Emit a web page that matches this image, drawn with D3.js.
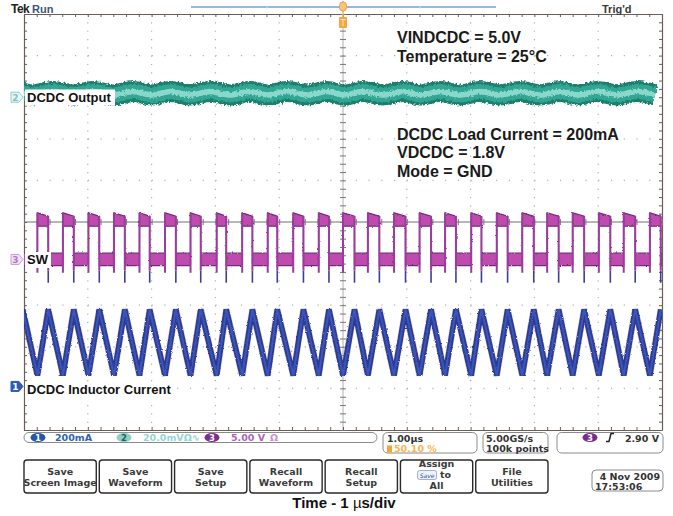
<!DOCTYPE html>
<html>
<head>
<meta charset="utf-8">
<script src="https://cdn.jsdelivr.net/npm/d3@7"></script>
<style>
  body { margin: 0; background: #fff; }
  svg { display: block; }
</style>
</head>
<body>
<div id="scope"></div>
<script>
// ---- data ----
// horizontal: 1 us/div, trigger at centre
var timeDomain = [-5, 5];

// SW (ch3) edge times, us
var swRise = [-4.79, -4.39, -3.99, -3.59, -3.19, -2.79, -2.39, -1.98, -1.58, -1.18, -0.78, -0.38,
              0.00, 0.39, 0.80, 1.20, 1.60, 2.01, 2.41, 2.81, 3.20, 3.60, 4.01, 4.40, 4.81];
var swFall = [-5.02, -4.62, -4.22, -3.82, -3.42, -3.03, -2.62, -2.23, -1.83, -1.42, -1.03, -0.62, -0.22,
              0.18, 0.57, 0.98, 1.38, 1.77, 2.17, 2.58, 2.99, 3.38, 3.78, 4.19, 4.58, 4.98];
// SW persistence band, V : low bottom, low top, high bottom
var swBand = [-0.75, 0.75, 4.0];
// high top at start / end of the pulse, V
var swHighTop = [5.6, 5.2];
// rise dip, fall undershoot, V
var swSpikes = [-1.6, -2.8];

// inductor current (ch1), mA : valley, peak
var ilLevels = [62, 380];

// DCDC output ripple (ch2)
var outHumpT = [-5.1, -4.55, -3.92, -3.29, -2.71, -2.08, -1.46, -0.88, -0.25, 0.31, 0.94, 1.52, 2.15, 2.77, 3.40, 3.98, 4.61];
var outTroughT = [-4.86, -4.23, -3.61, -2.99, -2.40, -1.77, -1.18, -0.56, 0.03, 0.63, 1.22, 1.83, 2.46, 3.09, 3.68, 4.29, 4.89];
var outLevels = [1.1, 2.7];   // mV : trough, hump

// channel offsets (div) and scales (per div)
var chPos = { ch1: -4, ch2: 3, ch3: -0.9 };
var chScale = { ch1: 200, ch2: 20, ch3: 5 };

// text
var notesTop = ["VINDCDC = 5.0V", "Temperature = 25°C"];
var notesMid = ["DCDC Load Current = 200mA", "VDCDC = 1.8V", "Mode = GND"];
var menuButtons = [["Save", "Screen Image"], ["Save", "Waveform"], ["Save", "Setup"],
                   ["Recall", "Waveform"], ["Recall", "Setup"], ["Assign", "to", "All"], ["File", "Utilities"]];

// ---- setup ----
var W = 673, H = 516;
var svg = d3.select("#scope").append("svg")
    .attr("width", W).attr("height", H)
    .style("background", "#fff");

var x = d3.scaleLinear().domain(timeDomain).range([24, 662]);
var gy = d3.scaleLinear().domain([5, -5]).range([14, 430]);   // divisions

var y1 = function(v) { return gy(chPos.ch1 + v / chScale.ch1); };
var y2 = function(v) { return gy(chPos.ch2 + v / chScale.ch2); };
var y3 = function(v) { return gy(chPos.ch3 + v / chScale.ch3); };

var defs = svg.append("defs");
defs.append("clipPath").attr("id", "grat")
  .append("rect").attr("x", 24).attr("y", 14).attr("width", 638).attr("height", 416);

function fuzzFilter(id, freq, scale, seed) {
  var f = defs.append("filter").attr("id", id)
      .attr("filterUnits", "userSpaceOnUse")
      .attr("x", 0).attr("y", 0).attr("width", W).attr("height", H);
  f.append("feTurbulence").attr("type", "fractalNoise")
      .attr("baseFrequency", freq).attr("numOctaves", 2).attr("seed", seed).attr("result", "n");
  f.append("feDisplacementMap").attr("in", "SourceGraphic").attr("in2", "n")
      .attr("scale", scale).attr("xChannelSelector", "R").attr("yChannelSelector", "G");
}
fuzzFilter("fuzz", "0.5 0.45", 4.5, 7);
fuzzFilter("fuzz2", "0.8 0.6", 2.2, 3);

// ---- graticule ----
var grid = svg.append("g");
var dx = (x(1) - x(0)) / 5, dy = (gy(-1) - gy(0)) / 5;

grid.selectAll(".vg").data([-4, -3, -2, -1, 1, 2, 3, 4]).join("line")
    .attr("x1", function(d) { return x(d); }).attr("x2", function(d) { return x(d); })
    .attr("y1", 14).attr("y2", 430)
    .attr("stroke", "#a7b2bf").attr("stroke-width", 1.2)
    .attr("stroke-dasharray", "1.2 " + (dy - 1.2));

grid.selectAll(".hg").data([4, 3, 2, 1, -1, -2, -3, -4]).join("line")
    .attr("y1", function(d) { return gy(d); }).attr("y2", function(d) { return gy(d); })
    .attr("x1", 24).attr("x2", 662)
    .attr("stroke", "#a7b2bf").attr("stroke-width", 1.2)
    .attr("stroke-dasharray", "1.2 " + (dx - 1.2));

// centre lines
grid.append("line").attr("x1", x(0)).attr("x2", x(0)).attr("y1", 14).attr("y2", 430)
    .attr("stroke", "#9a9a9a").attr("stroke-width", 0.8);
grid.append("line").attr("x1", 24).attr("x2", 662).attr("y1", gy(0)).attr("y2", gy(0))
    .attr("stroke", "#707070").attr("stroke-width", 1);

var minorX = d3.range(51).map(function(i) { return -5 + i * 0.2; });
var minorY = d3.range(51).map(function(i) { return -5 + i * 0.2; });

function styleAxis(g) {
  g.selectAll(".domain").attr("stroke", "#6a5e58").attr("stroke-width", 1.2);
  g.selectAll(".tick line").attr("stroke", "#6a5e58");
}
grid.append("g").attr("transform", "translate(0,14)")
    .call(d3.axisBottom(x).tickValues(minorX).tickSize(3).tickSizeOuter(0).tickFormat(""))
    .call(styleAxis);
grid.append("g").attr("transform", "translate(0,430)")
    .call(d3.axisTop(x).tickValues(minorX).tickSize(3).tickSizeOuter(0).tickFormat(""))
    .call(styleAxis);
grid.append("g").attr("transform", "translate(24,0)")
    .call(d3.axisRight(gy).tickValues(minorY).tickSize(3).tickSizeOuter(0).tickFormat(""))
    .call(styleAxis);
grid.append("g").attr("transform", "translate(662,0)")
    .call(d3.axisLeft(gy).tickValues(minorY).tickSize(3).tickSizeOuter(0).tickFormat(""))
    .call(styleAxis);
[d3.axisLeft, d3.axisRight].forEach(function(ax) {
  grid.append("g").attr("transform", "translate(" + x(0) + ",0)")
      .call(ax(gy).tickValues(minorY).tickSize(3).tickSizeOuter(0).tickFormat(""))
      .call(function(g) { g.select(".domain").remove(); g.selectAll(".tick line").attr("stroke", "#777"); });
});
[d3.axisTop, d3.axisBottom].forEach(function(ax) {
  grid.append("g").attr("transform", "translate(0," + gy(0) + ")")
      .call(ax(x).tickValues(minorX).tickSize(3).tickSizeOuter(0).tickFormat(""))
      .call(function(g) { g.select(".domain").remove(); g.selectAll(".tick line").attr("stroke", "#777"); });
});

// ---- traces ----
var traces = svg.append("g").attr("clip-path", "url(#grat)");

// ch2 DCDC output
var outPts = outHumpT.map(function(t) { return [t, outLevels[1]]; })
    .concat(outTroughT.map(function(t) { return [t, outLevels[0]]; }))
    .sort(function(a, b) { return a[0] - b[0]; });
var outLine = d3.line().x(function(d) { return x(d[0]); }).y(function(d) { return y2(d[1]); })
    .curve(d3.curveCatmullRom);
var tealG = traces.append("g").attr("filter", "url(#fuzz)");
[[21, "#1b7f6e"], [15, "#32a693"], [5.5, "#8ad8cb"]].forEach(function(s) {
  tealG.append("path").datum(outPts).attr("d", outLine)
      .attr("fill", "none").attr("stroke", s[1]).attr("stroke-width", s[0]);
});

// ch3 SW
var swPts = [[-5.2, swBand[0], swBand[1]]];
swRise.forEach(function(r, i) {
  var f = swFall[i + 1];
  swPts.push([r, swBand[0], swBand[1]], [r, swBand[2], swHighTop[0]],
             [f, swBand[2], swHighTop[1]], [f, swBand[0], swBand[1]]);
});
swPts.push([5.2, swBand[0], swBand[1]]);
var swArea = d3.area().x(function(d) { return x(d[0]); })
    .y0(function(d) { return y3(d[1]); }).y1(function(d) { return y3(d[2]); });
var swG = traces.append("g");
swG.append("path").datum(swPts).attr("d", swArea)
    .attr("fill", "#c04cae").attr("stroke", "#6d2c7c").attr("stroke-width", 1.2)
    .attr("filter", "url(#fuzz2)");
swG.selectAll(".ft").data(swFall).join("line")
    .attr("x1", function(d) { return x(d); }).attr("x2", function(d) { return x(d); })
    .attr("y1", y3(swBand[0] - 0.6)).attr("y2", y3(swSpikes[1]))
    .attr("stroke", "#3b3f9a").attr("stroke-width", 1.6);
swG.selectAll(".re").data(swRise).join("line")
    .attr("x1", function(d) { return x(d); }).attr("x2", function(d) { return x(d); })
    .attr("y1", y3(swSpikes[0])).attr("y2", y3(swHighTop[0]))
    .attr("stroke", "#9b3c9c").attr("stroke-width", 2);
swG.selectAll(".fe").data(swFall).join("line")
    .attr("x1", function(d) { return x(d); }).attr("x2", function(d) { return x(d); })
    .attr("y1", y3(swHighTop[1])).attr("y2", y3(swBand[0] - 0.6))
    .attr("stroke", "#9b3c9c").attr("stroke-width", 2);

// ch1 inductor current
var ilPts = [[swFall[0], ilLevels[1]]];
swRise.forEach(function(r, i) {
  ilPts.push([r, ilLevels[0]], [swFall[i + 1], ilLevels[1]]);
});
var ilLine = d3.line().x(function(d) { return x(d[0]); }).y(function(d) { return y1(d[1]); });
var ilG = traces.append("g").attr("filter", "url(#fuzz2)");
[[6.8, "#b98a8a", 0.3], [5.6, "#2c3c96", 1], [2, "#3d55b6", 1]].forEach(function(s) {
  ilG.append("path").datum(ilPts).attr("d", ilLine)
      .attr("fill", "none").attr("stroke", s[1]).attr("stroke-width", s[0])
      .attr("stroke-opacity", s[2]).attr("stroke-linejoin", "miter").attr("stroke-miterlimit", 4);
});

// ---- trace labels ----
function traceLabel(txt, yBase, w) {
  svg.append("rect").attr("x", 25).attr("y", yBase - 12).attr("width", w).attr("height", 16).attr("fill", "#fff");
  svg.append("text").attr("x", 27).attr("y", yBase).text(txt)
      .style("font-family", "'Liberation Sans', Arial, sans-serif").style("font-weight", "bold")
      .style("font-size", "13px").attr("fill", "#111");
}
traceLabel("DCDC Output", 101.5, 90);
traceLabel("SW", 264, 26);
traceLabel("DCDC Inductor Current", 394, 148);

// channel markers
function chMarker(n, yc, fill, stroke, txtCol) {
  var g = svg.append("g").attr("transform", "translate(11," + yc + ")");
  g.append("path").attr("d", "M0,-5H8L12,0L8,5H0Z").attr("fill", fill).attr("stroke", stroke).attr("stroke-width", 1);
  g.append("text").attr("x", 4.5).attr("y", 3.5).attr("text-anchor", "middle").text(n)
      .style("font-family", "DejaVu Sans, sans-serif").style("font-size", "9px").style("font-weight", "bold")
      .attr("fill", txtCol);
}
chMarker("2", gy(chPos.ch2), "#e6f6f4", "#8fcfc8", "#7fc4bd");
chMarker("3", y3(0), "#f1e0f4", "#c9a0d6", "#b07cc4");
chMarker("1", gy(chPos.ch1) - 2, "#2f5cae", "#2f5cae", "#fff");

// ---- annotations ----
function notes(lines, yFirst, step) {
  svg.append("g").selectAll("text").data(lines).join("text")
      .attr("x", 397).attr("y", function(d, i) { return yFirst + i * step; })
      .text(function(d) { return d; })
      .style("font-family", "'Liberation Sans', Arial, sans-serif").style("font-weight", "bold")
      .style("font-size", "16px").attr("fill", "#1a1a1a");
}
notes(notesTop, 43, 18.7);
notes(notesMid, 139.5, 18.7);

// ---- header ----
svg.append("text").attr("x", 11).attr("y", 12.5).text("Tek")
    .style("font-family", "'Liberation Sans', Arial, sans-serif").style("font-weight", "bold")
    .style("font-size", "12px").style("letter-spacing", "-0.5px").attr("fill", "#222");
svg.append("text").attr("x", 32).attr("y", 12.5).text("Run")
    .style("font-family", "'Liberation Sans', Arial, sans-serif").style("font-weight", "bold")
    .style("font-size", "11px").attr("fill", "#3c5679");
svg.append("text").attr("x", 602).attr("y", 12.5).text("Trig'd")
    .style("font-family", "'Liberation Sans', Arial, sans-serif").style("font-weight", "bold")
    .style("font-size", "11px").attr("fill", "#3a3a3a");
svg.append("line").attr("x1", 191).attr("x2", 496).attr("y1", 7).attr("y2", 7)
    .attr("stroke", "#6fa2da").attr("stroke-width", 1.5);
[267, 420].forEach(function(px) {
  svg.append("line").attr("x1", px).attr("x2", px).attr("y1", 5.5).attr("y2", 8.5)
      .attr("stroke", "#c8dcf2").attr("stroke-width", 1);
});
// trigger position marker
var trig = svg.append("g").attr("transform", "translate(" + x(0) + ",0)");
trig.append("line").attr("y1", 1).attr("y2", 28).attr("stroke", "#f2b35a").attr("stroke-width", 1.5);
trig.append("rect").attr("x", -3.5).attr("y", 2).attr("width", 7).attr("height", 9).attr("rx", 3.5)
    .attr("fill", "#f6c47a").attr("stroke", "#ee9f3a");
trig.append("rect").attr("x", -4).attr("y", 17).attr("width", 8).attr("height", 11).attr("rx", 1)
    .attr("fill", "#f5a63e");
trig.append("path").attr("d", "M-2.5,19.5H2.5M0,19.5V26").attr("stroke", "#fbe2bd").attr("stroke-width", 1.2);

// ---- status bar ----
var mono = "'DejaVu Sans', Verdana, sans-serif";
function sText(px, py, txt, col, size, anchor) {
  return svg.append("text").attr("x", px).attr("y", py).text(txt)
      .attr("text-anchor", anchor || "start")
      .style("font-family", mono).style("font-weight", "bold").style("font-size", (size || 9) + "px")
      .attr("fill", col);
}
function pill(cx, cy, n, fill, txtCol) {
  svg.append("ellipse").attr("cx", cx).attr("cy", cy).attr("rx", 7.5).attr("ry", 4.6).attr("fill", fill);
  sText(cx, cy + 3.2, n, txtCol, 8.5, "middle");
}
svg.append("rect").attr("x", 24).attr("y", 432.5).attr("width", 353).attr("height", 10).attr("rx", 5)
    .attr("fill", "#fff").attr("stroke", "#8a8a8a");
pill(38, 437.5, "1", "#2457a8", "#fff");
sText(55, 441, "200mA", "#2e64b8", 9.5);
pill(124, 437.5, "2", "#8dd0c8", "#285e58");
sText(143, 441, "20.0mVΩ∿", "#93d6d6", 9.5);
pill(212, 437.5, "3", "#7b2d8f", "#fff");
sText(231, 441, "5.00 V", "#b05fc2", 9.5);
sText(270, 441, "Ω", "#c98fd6", 9.5);

[[383, 94], [483, 65], [557, 106]].forEach(function(b) {
  svg.append("rect").attr("x", b[0]).attr("y", 432.5).attr("width", b[1]).attr("height", 20.5).attr("rx", 4.5)
      .attr("fill", "#fff").attr("stroke", "#8a8a8a");
});
sText(387, 441.5, "1.00µs", "#333", 9.5);
svg.append("rect").attr("x", 387).attr("y", 445.5).attr("width", 5).attr("height", 7).attr("fill", "#f5a632");
sText(394, 452, "50.10 %", "#f7b550", 9.5);
sText(486, 441.5, "5.00GS/s", "#333", 9.5);
sText(486, 452, "100k points", "#333", 9.5);
pill(590, 437.5, "3", "#7b2d8f", "#fff");
svg.append("path").attr("d", "M606,441.5H609L611,433.5H614").attr("fill", "none")
    .attr("stroke", "#222").attr("stroke-width", 1.5);
sText(659, 441.5, "2.90 V", "#333", 9.5, "end");

// ---- menu buttons ----
var bx = d3.scaleBand().domain(d3.range(menuButtons.length)).range([24, 548]).paddingInner(0.04);
var btn = svg.append("g").selectAll("g").data(menuButtons).join("g")
    .attr("transform", function(d, i) { return "translate(" + bx(i) + ",460)"; });
btn.append("rect").attr("width", bx.bandwidth()).attr("height", 33).attr("rx", 3)
    .attr("fill", "#fff").attr("stroke", "#2a2a2a").attr("stroke-width", 1.4);
btn.each(function(d) {
  var g = d3.select(this);
  var y0 = d.length === 3 ? 7 : 15;
  d.forEach(function(line, k) {
    var t = g.append("text").attr("x", bx.bandwidth() / 2).attr("y", y0 + k * 11)
        .attr("text-anchor", "middle")
        .style("font-family", mono).style("font-weight", "bold").style("font-size", "9.5px")
        .attr("fill", "#3a3a3a");
    if (line === "to") {
      t.attr("x", bx.bandwidth() / 2 + 9).text("to");
      g.append("rect").attr("x", bx.bandwidth() / 2 - 19).attr("y", y0 + k * 11 - 7.5)
          .attr("width", 19).attr("height", 9).attr("rx", 2)
          .attr("fill", "#eef3fb").attr("stroke", "#7a8fb8").attr("stroke-width", 0.7);
      g.append("text").attr("x", bx.bandwidth() / 2 - 9.5).attr("y", y0 + k * 11 - 0.5)
          .attr("text-anchor", "middle").text("Save")
          .style("font-family", mono).style("font-size", "6px").style("font-style", "italic")
          .attr("fill", "#2a4f8f");
    } else {
      t.text(line);
    }
  });
});

// date box
svg.append("rect").attr("x", 592).attr("y", 470).attr("width", 71).attr("height", 21).attr("rx", 4)
    .attr("fill", "#fff").attr("stroke", "#8a8a8a");
sText(660, 479.5, "4 Nov 2009", "#333", 9.5, "end");
sText(595, 489.5, "17:53:06", "#333", 9.5);

// ---- x title ----
var title = svg.append("text").attr("x", 344).attr("y", 507.5).attr("text-anchor", "middle")
    .style("font-family", "'Liberation Sans', Arial, sans-serif").style("font-weight", "bold")
    .style("font-size", "15px").attr("fill", "#111");
title.append("tspan").text("Time - 1 ");
title.append("tspan").text("µ").style("font-weight", "normal");
title.append("tspan").text("s/div");
</script>
</body>
</html>
